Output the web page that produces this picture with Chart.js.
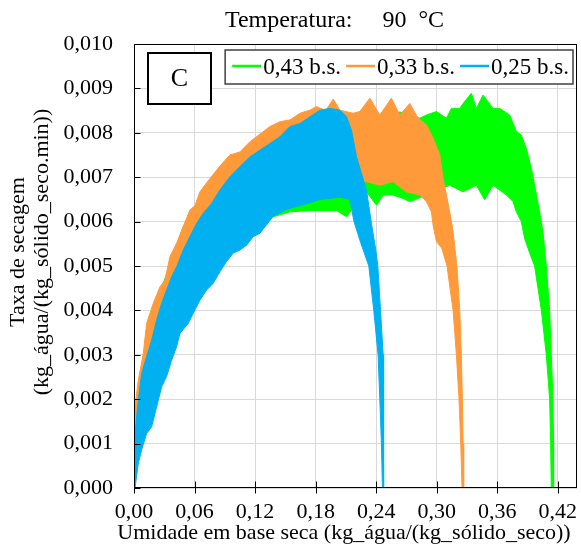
<!DOCTYPE html>
<html>
<head>
<meta charset="utf-8">
<script src="https://cdn.jsdelivr.net/npm/chart.js@4/dist/chart.umd.min.js"></script>
<style>
  html, body { margin: 0; padding: 0; background: #ffffff; }
  #wrap { width: 581px; height: 559px; }
</style>
</head>
<body>
<div id="wrap"><canvas id="chart" width="581" height="559"></canvas></div>
<script>
// Drying-rate curves at 90 °C for three initial moisture contents.
// Each series is a noisy signal, stored as the upper and lower envelope of
// its band: [moisture (kg water / kg dry solid), rate (kg water / (kg dry solid·min))].

const TITLE = 'Temperatura:     90  °C       ';
const PANEL_TAG = 'C';
const X_TITLE = 'Umidade em base seca (kg_água/(kg_sólido_seco))';
const Y_TITLE = ['Taxa de secagem', '(kg_água/(kg_sólido_seco.min))'];

const SERIES_LABELS = ['0,43 b.s.', '0,33 b.s.', '0,25 b.s.'];
const SERIES_COLORS = ['#00ff00', '#ff9a3a', '#00b0f0'];

const X_TICKS = [0, 0.06, 0.12, 0.18, 0.24, 0.30, 0.36, 0.42];
const Y_TICKS = [0, 0.001, 0.002, 0.003, 0.004, 0.005, 0.006, 0.007, 0.008, 0.009, 0.010];

// 0,43 b.s. — upper edge (left to right, down the falling-rate tail)
const GREEN_TOP = [
  [0.0003, 0.00080], [0.0005, 0.00150], [0.0158, 0.00386], [0.0290, 0.00461],
  [0.0488, 0.00589], [0.0614, 0.00637], [0.0850, 0.00715], [0.1050, 0.00750],
  [0.1250, 0.00790], [0.1430, 0.00805], [0.1650, 0.00830], [0.1900, 0.00840],
  [0.2200, 0.00835], [0.2500, 0.00830], [0.2630, 0.00847], [0.2832, 0.00833],
  [0.2898, 0.00840], [0.2997, 0.00848], [0.3096, 0.00833], [0.3145, 0.00855],
  [0.3228, 0.00855], [0.3261, 0.00866], [0.3343, 0.00889], [0.3393, 0.00855],
  [0.3459, 0.00885], [0.3558, 0.00855], [0.3624, 0.00855], [0.3723, 0.00840],
  [0.3789, 0.00803], [0.3838, 0.00795], [0.3888, 0.00765], [0.3938, 0.00720],
  [0.3970, 0.00682], [0.4020, 0.00622], [0.4053, 0.00577], [0.4086, 0.00500],
  [0.4119, 0.00400], [0.4135, 0.00300], [0.4152, 0.00200], [0.4158, 0.00100],
  [0.4158, 0.00000]
];
// 0,43 b.s. — lower edge (left to right)
const GREEN_BOTTOM = [
  [0.0003, 0.00080], [0.0100, 0.00140], [0.0300, 0.00270], [0.0600, 0.00420],
  [0.0850, 0.00500], [0.1050, 0.00551], [0.1165, 0.00577], [0.1280, 0.00604],
  [0.1545, 0.00622], [0.1776, 0.00625], [0.2007, 0.00625], [0.2106, 0.00611],
  [0.2200, 0.00640], [0.2304, 0.00667], [0.2403, 0.00637], [0.2469, 0.00660],
  [0.2568, 0.00660], [0.2667, 0.00652], [0.2733, 0.00645], [0.2900, 0.00660],
  [0.3000, 0.00670], [0.3129, 0.00682], [0.3260, 0.00667], [0.3393, 0.00682],
  [0.3475, 0.00649], [0.3558, 0.00682], [0.3690, 0.00660], [0.3756, 0.00645],
  [0.3789, 0.00622], [0.3838, 0.00600], [0.3871, 0.00562], [0.3920, 0.00530],
  [0.3970, 0.00500], [0.4037, 0.00400], [0.4086, 0.00300], [0.4119, 0.00200],
  [0.4129, 0.00100], [0.4135, 0.00000]
];

// 0,33 b.s.
const ORANGE_TOP = [
  [0.0003, 0.00110], [0.0005, 0.00176], [0.0043, 0.00243], [0.0092, 0.00303],
  [0.0125, 0.00371], [0.0191, 0.00416], [0.0257, 0.00453], [0.0307, 0.00468],
  [0.0356, 0.00521], [0.0422, 0.00551], [0.0488, 0.00589], [0.0554, 0.00626],
  [0.0604, 0.00636], [0.0653, 0.00667], [0.0752, 0.00697], [0.0851, 0.00725],
  [0.0950, 0.00750], [0.1050, 0.00757], [0.1149, 0.00780], [0.1248, 0.00797],
  [0.1347, 0.00814], [0.1446, 0.00825], [0.1545, 0.00829], [0.1644, 0.00844],
  [0.1743, 0.00851], [0.1809, 0.00859], [0.1900, 0.00850], [0.1974, 0.00876],
  [0.2040, 0.00851], [0.2172, 0.00844], [0.2238, 0.00848], [0.2337, 0.00878],
  [0.2436, 0.00840], [0.2551, 0.00878], [0.2634, 0.00840], [0.2733, 0.00866],
  [0.2815, 0.00833], [0.2898, 0.00818], [0.2964, 0.00788], [0.3030, 0.00750],
  [0.3063, 0.00697], [0.3096, 0.00660], [0.3129, 0.00622], [0.3162, 0.00577],
  [0.3200, 0.00500], [0.3228, 0.00400], [0.3244, 0.00300], [0.3254, 0.00200],
  [0.3261, 0.00100], [0.3267, 0.00000]
];
const ORANGE_BOTTOM = [
  [0.0003, 0.00110], [0.0100, 0.00170], [0.0300, 0.00300], [0.0600, 0.00440],
  [0.0900, 0.00540], [0.1200, 0.00600], [0.1500, 0.00650], [0.1800, 0.00680],
  [0.2000, 0.00690], [0.2200, 0.00690], [0.2304, 0.00690], [0.2436, 0.00682],
  [0.2568, 0.00690], [0.2700, 0.00667], [0.2832, 0.00660], [0.2898, 0.00645],
  [0.2947, 0.00622], [0.2964, 0.00592], [0.2997, 0.00555], [0.3050, 0.00540],
  [0.3102, 0.00500], [0.3162, 0.00400], [0.3195, 0.00300], [0.3221, 0.00200],
  [0.3238, 0.00100], [0.3251, 0.00000]
];

// 0,25 b.s.
const BLUE_TOP = [
  [0.0005, 0.00000], [0.0010, 0.00123], [0.0043, 0.00198], [0.0076, 0.00258],
  [0.0125, 0.00296], [0.0175, 0.00333], [0.0224, 0.00378], [0.0274, 0.00416],
  [0.0323, 0.00446], [0.0373, 0.00476], [0.0422, 0.00498], [0.0488, 0.00536],
  [0.0554, 0.00566], [0.0620, 0.00596], [0.0686, 0.00619], [0.0769, 0.00641],
  [0.0851, 0.00671], [0.0950, 0.00701], [0.1050, 0.00724], [0.1149, 0.00746],
  [0.1248, 0.00761], [0.1347, 0.00776], [0.1446, 0.00791], [0.1545, 0.00814],
  [0.1644, 0.00821], [0.1743, 0.00836], [0.1842, 0.00851], [0.1941, 0.00855],
  [0.2040, 0.00851], [0.2106, 0.00836], [0.2155, 0.00806], [0.2205, 0.00746],
  [0.2304, 0.00671], [0.2353, 0.00596], [0.2396, 0.00536], [0.2416, 0.00500],
  [0.2443, 0.00400], [0.2469, 0.00300], [0.2471, 0.00200], [0.2475, 0.00100],
  [0.2475, 0.00000]
];
const BLUE_BOTTOM = [
  [0.0010, 0.00000], [0.0043, 0.00056], [0.0076, 0.00086], [0.0125, 0.00123],
  [0.0175, 0.00138], [0.0208, 0.00168], [0.0241, 0.00198], [0.0274, 0.00228],
  [0.0323, 0.00251], [0.0373, 0.00288], [0.0422, 0.00318], [0.0455, 0.00348],
  [0.0538, 0.00371], [0.0604, 0.00401], [0.0653, 0.00423], [0.0720, 0.00446],
  [0.0785, 0.00461], [0.0851, 0.00487], [0.0917, 0.00510], [0.0983, 0.00529],
  [0.1050, 0.00536], [0.1116, 0.00547], [0.1181, 0.00566], [0.1248, 0.00574],
  [0.1380, 0.00612], [0.1512, 0.00628], [0.1710, 0.00640], [0.1842, 0.00650],
  [0.2040, 0.00655], [0.2139, 0.00650], [0.2180, 0.00600], [0.2250, 0.00550],
  [0.2327, 0.00500], [0.2376, 0.00400], [0.2419, 0.00300], [0.2436, 0.00200],
  [0.2452, 0.00100], [0.2462, 0.00000]
];

const TOPS = [GREEN_TOP, ORANGE_TOP, BLUE_TOP];
const BOTTOMS = [GREEN_BOTTOM, ORANGE_BOTTOM, BLUE_BOTTOM];

const SERIF = '"Liberation Serif", "Times New Roman", serif';

// Closed outline: along the upper edge, then back along the lower edge.
function bandOutline(top, bottom) {
  return top.concat(bottom.slice().reverse()).map(([x, y]) => ({ x, y }));
}

const datasets = SERIES_LABELS.map((label, i) => ({
  label,
  data: bandOutline(TOPS[i], BOTTOMS[i]),
  borderColor: SERIES_COLORS[i],
  backgroundColor: SERIES_COLORS[i],
  borderWidth: 1,
  pointRadius: 0,
  tension: 0,
  fill: 'shape',
  order: SERIES_LABELS.length - i   // later series drawn over earlier ones
}));

const fmt = (digits) => (v) => Number(v).toFixed(digits).replace('.', ',');

// Plot frame, tick marks and x labels, panel tag, boxed legend and axis titles.
const decorations = {
  id: 'decorations',
  afterDraw(chart) {
    const { ctx, chartArea: a, scales: { x, y } } = chart;
    ctx.save();

    // frame
    ctx.strokeStyle = '#000000';
    ctx.lineWidth = 1;
    const L = Math.round(a.left) + 0.5, R = Math.round(a.right) - 0.5;
    const T = Math.round(a.top) + 0.5, B = Math.round(a.bottom) - 0.5;
    ctx.strokeRect(L, T, R - L, B - T);

    // tick marks
    ctx.beginPath();
    Y_TICKS.forEach(v => {
      const py = Math.round(y.getPixelForValue(v)) + 0.5;
      ctx.moveTo(L, py); ctx.lineTo(L + 6, py);
    });
    X_TICKS.forEach(v => {
      const px = Math.round(x.getPixelForValue(v)) + 0.5;
      ctx.moveTo(px, B - 6); ctx.lineTo(px, B + 6);
    });
    ctx.stroke();

    // x tick labels
    ctx.fillStyle = '#000000';
    ctx.font = `22px ${SERIF}`;
    ctx.textAlign = 'center';
    ctx.textBaseline = 'middle';
    const xLabel = fmt(2);
    X_TICKS.forEach(v => ctx.fillText(xLabel(v), x.getPixelForValue(v), a.bottom + 24));

    // panel tag
    ctx.lineWidth = 2;
    ctx.fillStyle = '#ffffff';
    const tx = a.left + 14, ty = a.top + 9, tw = 63, th = 51;
    ctx.fillRect(tx, ty, tw, th);
    ctx.strokeRect(tx, ty, tw, th);
    ctx.fillStyle = '#000000';
    ctx.font = `26px ${SERIF}`;
    ctx.fillText(PANEL_TAG, tx + tw / 2, ty + th / 2 + 1);

    // legend
    ctx.font = `23px ${SERIF}`;
    ctx.textAlign = 'left';
    const lineLen = 29, gapLine = 2, gapItem = 5, padL = 7, padR = 4;
    const widths = SERIES_LABELS.map(s => ctx.measureText(s).width);
    const inner = widths.reduce((s, w) => s + lineLen + gapLine + w, 0) + gapItem * (SERIES_LABELS.length - 1);
    const boxR = a.right - 4, boxT = a.top + 6, boxH = 34;
    const boxL = boxR - inner - padL - padR;
    ctx.fillStyle = '#ffffff';
    ctx.fillRect(boxL, boxT, boxR - boxL, boxH);
    ctx.strokeStyle = '#404040';
    ctx.lineWidth = 1.5;
    ctx.strokeRect(boxL, boxT, boxR - boxL, boxH);
    let cx = boxL + padL;
    const cy = boxT + 17;
    SERIES_LABELS.forEach((s, i) => {
      ctx.strokeStyle = SERIES_COLORS[i];
      ctx.lineWidth = 2.5;
      ctx.beginPath();
      ctx.moveTo(cx, cy - 1); ctx.lineTo(cx + lineLen, cy - 1);
      ctx.stroke();
      cx += lineLen + gapLine;
      ctx.fillStyle = '#000000';
      ctx.fillText(s, cx, cy + 1);
      cx += widths[i] + gapItem;
    });

    // axis titles
    ctx.fillStyle = '#000000';
    ctx.font = `22px ${SERIF}`;
    ctx.textAlign = 'center';
    ctx.textBaseline = 'middle';
    ctx.fillText(X_TITLE, a.left + 210, a.bottom + 45);
    const midY = (a.top + a.bottom) / 2 - 14;
    Y_TITLE.forEach((line, i) => {
      ctx.save();
      ctx.translate(18 + i * 24, midY);
      ctx.rotate(-Math.PI / 2);
      ctx.fillText(line, 0, 0);
      ctx.restore();
    });

    ctx.restore();
  }
};

new Chart(document.getElementById('chart'), {
  type: 'line',
  data: { datasets },
  options: {
    responsive: false,
    animation: false,
    devicePixelRatio: 1,
    layout: { autoPadding: false, padding: { left: 0, right: 4, top: 0, bottom: 0 } },
    plugins: {
      legend: { display: false },
      tooltip: { enabled: false },
      title: {
        display: true,
        text: TITLE,
        fullSize: false,
        color: '#000000',
        font: { family: SERIF, size: 24, weight: 'normal', lineHeight: 1.2 },
        padding: { top: 6, bottom: 9.2 }
      }
    },
    scales: {
      x: {
        type: 'linear',
        min: 0,
        max: 0.439,
        afterBuildTicks: s => { s.ticks = X_TICKS.map(value => ({ value })); },
        afterFit: s => { s.height = 71; },
        grid: { color: '#d9d9d9', lineWidth: 1, drawTicks: false },
        border: { display: false },
        ticks: { display: false }
      },
      y: {
        type: 'linear',
        min: 0,
        max: 0.010,
        afterBuildTicks: s => { s.ticks = Y_TICKS.map(value => ({ value })); },
        afterFit: s => { s.width = 134; },
        grid: { color: '#d9d9d9', lineWidth: 1, drawTicks: false },
        border: { display: false },
        ticks: {
          color: '#000000',
          font: { family: SERIF, size: 22 },
          padding: 21,
          autoSkip: false,
          callback: fmt(3)
        }
      }
    }
  },
  plugins: [decorations]
});
</script>
</body>
</html>
